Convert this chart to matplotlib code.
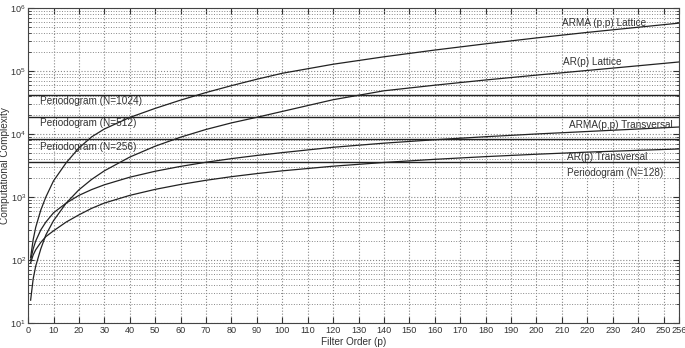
import numpy as np
import matplotlib
matplotlib.use("Agg")
import matplotlib.pyplot as plt
from matplotlib.ticker import LogLocator, NullFormatter

plt.rcParams["font.family"] = ["Liberation Sans", "DejaVu Sans"]

# filter order samples
p = [1, 2, 3, 5, 7, 10, 15, 20, 25, 30, 40, 50, 60, 70, 80, 90, 100,
     120, 140, 160, 180, 200, 220, 240, 256]

arma_lattice = [110, 210, 330, 620, 1000, 1800, 3500, 6000, 9000, 12000, 18300, 25500,
                34500, 45500, 58500, 74000, 92000, 128000, 168000, 215000, 270000,
                335000, 410000, 495000, 575000]
ar_lattice = [23, 50, 80, 150, 250, 420, 800, 1300, 1900, 2600, 4300, 6400, 8900,
              11800, 15000, 18400, 22800, 35000, 48500, 59500, 72000, 86000, 102000,
              121000, 139000]
arma_transversal = [100, 150, 200, 300, 400, 560, 800, 1060, 1310, 1560, 2060, 2560,
                    3060, 3560, 4060, 4560, 5060, 6150, 7150, 8100, 9050, 10000, 10950,
                    12000, 12900]
ar_transversal = [90, 120, 145, 190, 235, 290, 400, 520, 660, 800, 1060, 1320, 1580,
                  1840, 2100, 2350, 2600, 3080, 3530, 3960, 4370, 4770, 5150, 5500, 5780]

periodogram_N = [1024, 512, 256, 128]
periodogram_val = [40960, 18432, 8192, 3584]

xticks = list(range(0, 251, 10)) + [256]

fig = plt.figure(figsize=(6.85, 3.48), dpi=100)
ax = fig.add_axes([0.041, 0.072, 0.950, 0.905])

lc = "#222222"
for y in (arma_lattice, ar_lattice, arma_transversal, ar_transversal):
    ax.plot(p, y, color=lc, lw=0.9)
for v in periodogram_val:
    ax.axhline(v, color=lc, lw=1.0)

ax.set_yscale("log")
ax.set_xlim(0, 256)
ax.set_ylim(10, 1e6)
ax.set_xticks(xticks)
ax.set_xticklabels([str(t) for t in xticks])
ax.yaxis.set_major_locator(LogLocator(base=10, numticks=10))
ax.yaxis.set_minor_locator(LogLocator(base=10, subs=np.arange(2, 10), numticks=10))
ax.yaxis.set_minor_formatter(NullFormatter())

ax.grid(True, which="major", axis="both", color="#888888", ls=":", lw=0.8)
ax.grid(True, which="minor", axis="y", color="#888888", ls=":", lw=0.7)
ax.tick_params(which="both", direction="in", top=True, right=True, labelsize=6.6, colors="#333333")
ax.tick_params(which="major", length=4)
ax.tick_params(which="minor", length=2)
ax.tick_params(axis="x", pad=2.5)
ax.tick_params(axis="y", pad=1.5)
for s in ax.spines.values():
    s.set_color("#444444")
    s.set_linewidth(0.8)

fs = 7.2
tc = "#333333"
ax.text(210, 585000, "ARMA (p,p) Lattice", fontsize=fs, color=tc, va="center")
ax.text(210.6, 140600, "AR(p) Lattice", fontsize=fs, color=tc, va="center")
ax.text(212.6, 13900, "ARMA(p,p) Transversal", fontsize=fs, color=tc, va="center")
ax.text(212, 4370, "AR(p) Transversal", fontsize=fs, color=tc, va="center")
ax.text(212, 2430, "Periodogram (N=%d)" % periodogram_N[3], fontsize=fs, color=tc, va="center")
ax.text(4.7, 33800, "Periodogram (N=%d)" % periodogram_N[0], fontsize=fs, color=tc, va="center")
ax.text(4.7, 14800, "Periodogram (N=%d)" % periodogram_N[1], fontsize=fs, color=tc, va="center")
ax.text(4.7, 6300, "Periodogram (N=%d)" % periodogram_N[2], fontsize=fs, color=tc, va="center")

ax.set_xlabel("Filter Order (p)", fontsize=7.2, color=tc, va="center")
ax.set_ylabel("Computational Complexity", fontsize=7.2, color=tc, va="center")
ax.xaxis.set_label_coords(0.5, -0.060)
ax.yaxis.set_label_coords(-0.036, 0.5)

fig.savefig("out.png", dpi=100)
